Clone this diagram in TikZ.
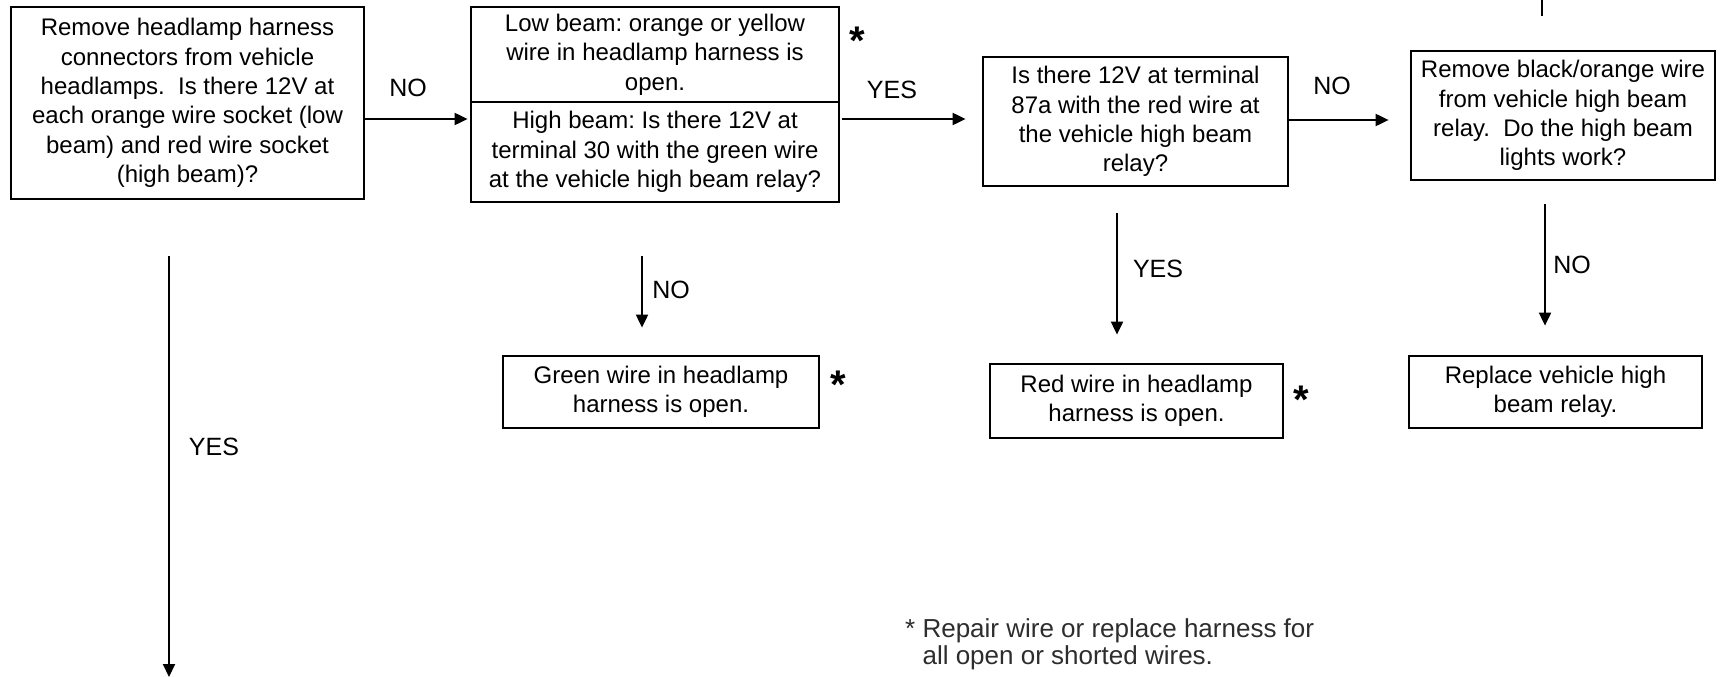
\documentclass[tikz,border=0pt]{standalone}
\usepackage{fontspec}
\setmainfont{Liberation Sans}
\usetikzlibrary{arrows.meta}
\newcommand{\mainfnt}{\fontsize{24}{29.3}\selectfont}
\newcommand{\lblfnt}{\fontsize{25}{28}\selectfont}
\newcommand{\starfnt}{\fontsize{40}{44}\selectfont\bfseries}
\newcommand{\notefnt}{\fontsize{26}{27}\selectfont}
\definecolor{notegray}{RGB}{45,45,45}
\frenchspacing
\begin{document}
\begin{tikzpicture}[x=1pt,y=-1pt,
  box/.style={draw, line width=2.8pt, inner sep=0pt, align=center, font=\mainfnt},
  arr/.style={line width=2pt, -{Triangle[length=13pt,width=12pt]}},
  plainline/.style={line width=2pt},
  lbl/.style={inner sep=0pt, font=\lblfnt},
  star/.style={inner sep=0pt, font=\starfnt, anchor=base},
  note/.style={inner sep=0pt, font=\notefnt, text=notegray, anchor=base west}]
\useasboundingbox (0,0) rectangle (1721,677);

% boxes
\node[box, minimum width=353pt, minimum height=192pt] (q1) at (187.5,103)
  {Remove headlamp harness\\connectors from vehicle\\headlamps.\ \ Is there 12V at\\each orange wire socket (low\\beam) and red wire socket\\(high beam)?};
\node[box, minimum width=368pt, minimum height=95pt] (lowb) at (655,54.5)
  {Low beam: orange or yellow\\wire in headlamp harness is\\open.};
\node[box, minimum width=368pt, minimum height=100pt] (highb) at (655,152)
  {High beam: Is there 12V at\\terminal 30 with the green wire\\at the vehicle high beam relay?};
\node[box, minimum width=305pt, minimum height=129pt] (q3) at (1135.5,121.5)
  {Is there 12V at terminal\\87a with the red wire at\\the vehicle high beam\\relay?};
\node[box, minimum width=304pt, minimum height=129pt] (q4) at (1563,115.5)
  {Remove black/orange wire\\from vehicle high beam\\relay.\ \ Do the high beam\\lights work?};
\node[box, minimum width=316pt, minimum height=72pt] (green) at (661,392)
  {Green wire in headlamp\\harness is open.};
\node[box, minimum width=293pt, minimum height=74pt] (red) at (1136.5,401)
  {Red wire in headlamp\\harness is open.};
\node[box, minimum width=293pt, minimum height=72pt] (repl) at (1555.5,392)
  {Replace vehicle high\\beam relay.};

% helper coordinates
\coordinate (ya) at (0,119);
\coordinate (yb) at (0,120);
\coordinate (x1) at (169,0);
\coordinate (bot1) at (169,677);
\coordinate (x2) at (642,0);
\coordinate (x3) at (1117,0);
\coordinate (x4) at (1545,0);
\coordinate (top4) at (1542,0);

% connectors
\draw[arr, shorten >=2pt] (q1.east |- ya) -- (highb.west |- ya);
\draw[arr, shorten <=2pt, shorten >=16pt] (highb.east |- ya) -- (q3.west |- ya);
\draw[arr, shorten >=21pt] (q3.east |- yb) -- (q4.west |- yb);
\draw[plainline, shorten >=34pt] (top4) -- (q4.north -| top4);
\draw[arr, shorten <=56pt] (q1.south -| x1) -- (bot1);
\draw[arr, shorten <=53pt, shorten >=27pt] (highb.south -| x2) -- (green.north -| x2);
\draw[arr, shorten <=26pt, shorten >=28pt] (q3.south -| x3) -- (red.north -| x3);
\draw[arr, shorten <=23pt, shorten >=29pt] (q4.south -| x4) -- (repl.north -| x4);

% labels
\node[lbl] (l1) at (408,88) {NO};
\node[lbl] (l2) at (892,90) {YES};
\node[lbl] (l3) at (1332,86) {NO};
\node[lbl] (l4) at (671,290) {NO};
\node[lbl] (l5) at (1158,269) {YES};
\node[lbl] (l6) at (1572,265) {NO};
\node[lbl] (l7) at (214,447) {YES};

% stars
\node[star] (s1) at (857,55) {*};
\node[star] (s2) at (838,398) {*};
\node[star] (s3) at (1301,413) {*};

% footnote
\node[note] (n1) at (905,637) {* Repair wire or replace harness for};
\node[note] (n2) at (905,664) {\hphantom{*} all open or shorted wires.};
\end{tikzpicture}
\end{document}
